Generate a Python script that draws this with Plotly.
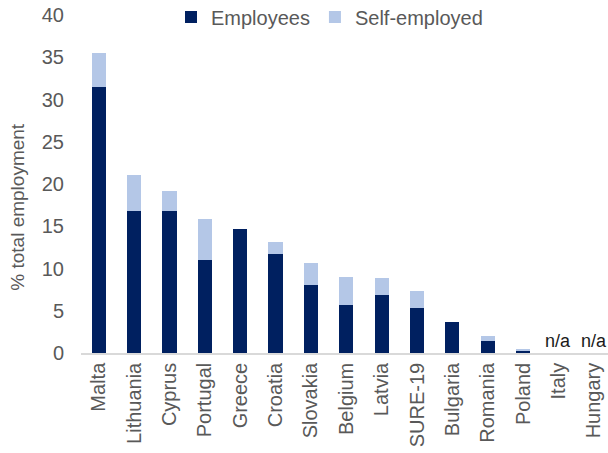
import plotly.graph_objects as go

categories = ["Malta", "Lithuania", "Cyprus", "Portugal", "Greece", "Croatia", "Slovakia",
              "Belgium", "Latvia", "SURE-19", "Bulgaria", "Romania", "Poland", "Italy", "Hungary"]
employees = [31.5, 16.8, 16.8, 11.0, 14.7, 11.7, 8.1, 5.7, 6.9, 5.3, 3.65, 1.4, 0.2, None, None]
self_employed = [4.0, 4.3, 2.4, 4.9, 0.0, 1.4, 2.5, 3.3, 1.95, 2.0, 0.0, 0.6, 0.3, None, None]
na_categories = ["Italy", "Hungary"]
y_ticks = [0, 5, 10, 15, 20, 25, 30, 35, 40]

FONT = "Liberation Sans, Arial, sans-serif"
GREY = "#595959"
L, T, B = 81, 15, 99.5
PW, PH = 608 - L, 453 - T - B

fig = go.Figure()
fig.add_trace(go.Bar(x=categories, y=employees, name="Employees",
                     marker=dict(color="#002060", line=dict(width=0)), width=0.4))
fig.add_trace(go.Bar(x=categories, y=self_employed, name="Self-employed",
                     marker=dict(color="#B4C7E7", line=dict(width=0)), width=0.4))

for c in na_categories:
    fig.add_annotation(x=c, y=0, xref="x", yref="y", text="n/a", showarrow=False,
                       yanchor="bottom", yshift=0, font=dict(family=FONT, size=18, color="#1a1a1a"))

fig.add_annotation(x=(18 - L) / PW, y=(453 - B - 207) / PH, xref="paper", yref="paper",
                   text="% total employment", showarrow=False, textangle=-90,
                   xanchor="center", yanchor="middle",
                   font=dict(family=FONT, size=19, color=GREY))

fig.update_layout(
    width=608, height=453,
    margin=dict(l=L, r=0, t=T, b=B, autoexpand=False),
    barmode="stack",
    plot_bgcolor="white", paper_bgcolor="white",
    font=dict(family=FONT, size=20, color=GREY),
    showlegend=True,
    legend=dict(orientation="h", x=(171 - L) / PW, y=(453 - B - 17) / PH, xanchor="left", yanchor="middle",
                font=dict(family=FONT, size=20, color=GREY), bgcolor="rgba(0,0,0,0)",
                traceorder="normal"),
    xaxis=dict(range=[-0.5, 14.4], showgrid=False, showline=True, linecolor="#D9D9D9",
               linewidth=1.5, ticks="", tickangle=-90, automargin=False,
               tickfont=dict(family=FONT, size=20, color=GREY)),
    yaxis=dict(range=[0, 40], tickvals=y_ticks, showgrid=False, showline=False, zeroline=False,
               ticks="", ticklabelstandoff=16, automargin=False,
               tickfont=dict(family=FONT, size=20, color=GREY)),
)

fig.write_html("out.html", config={"displayModeBar": False},
               post_script="document.body.style.margin='0';document.body.style.overflow='hidden';")
